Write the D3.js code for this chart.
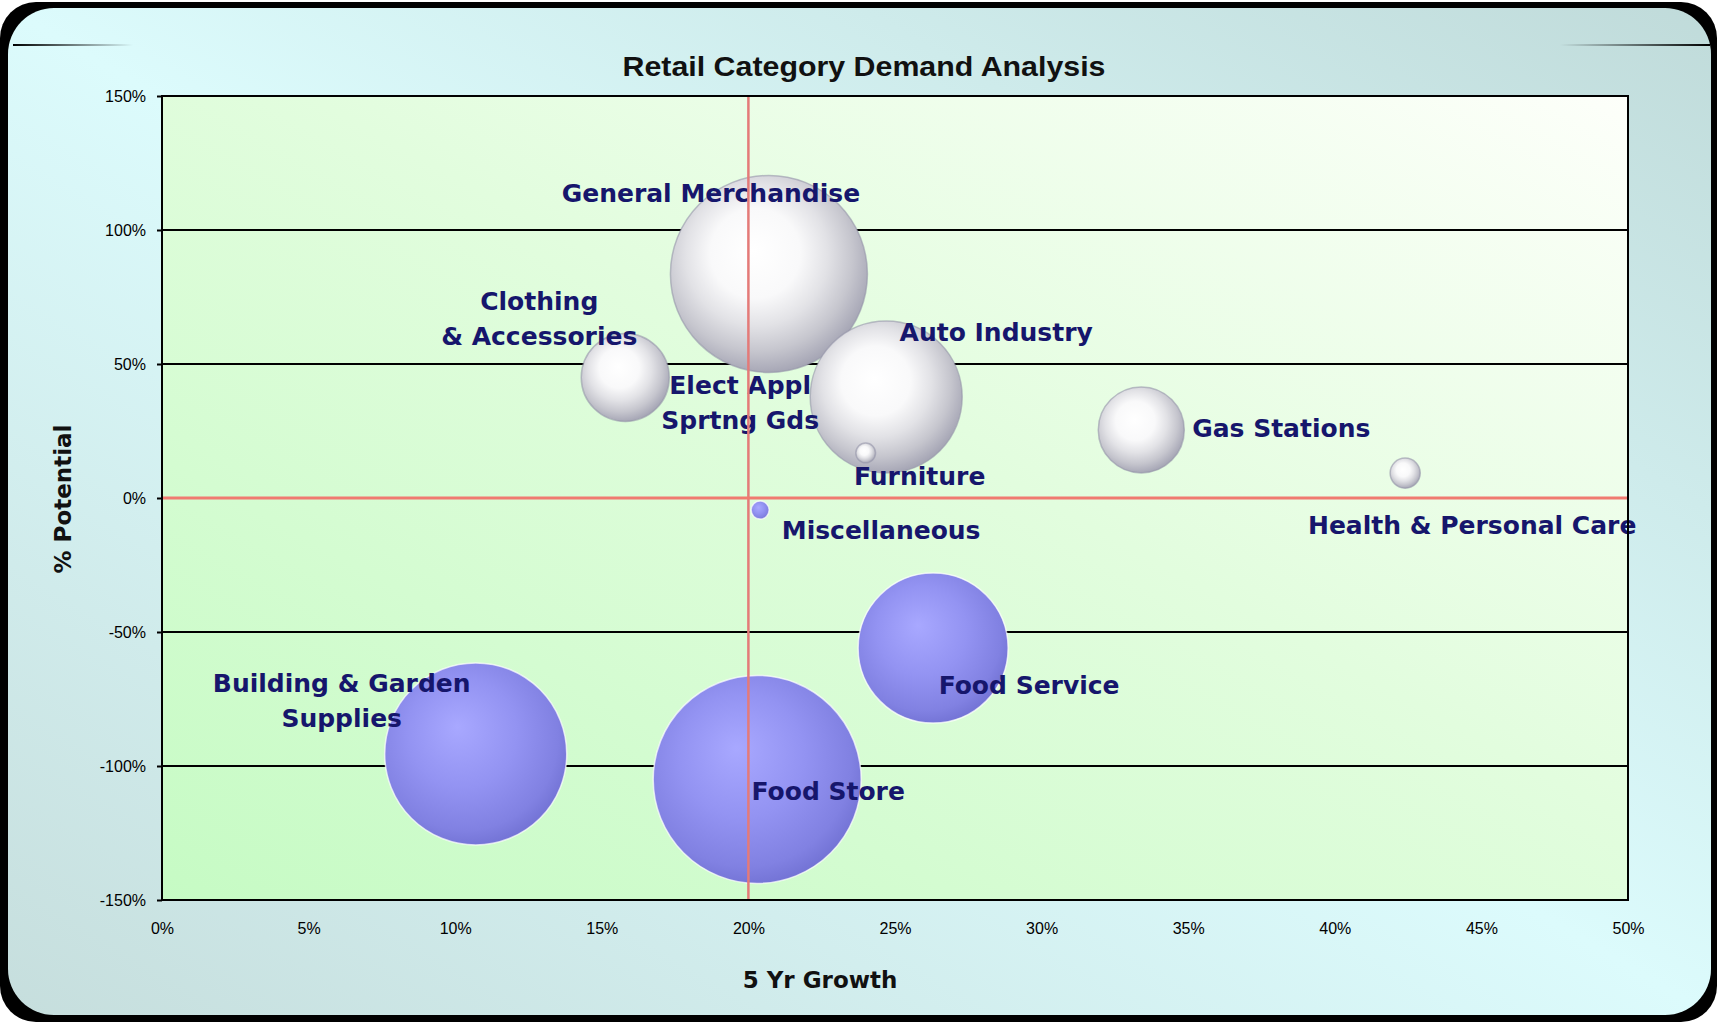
<!DOCTYPE html>
<html>
<head>
<meta charset="utf-8">
<script src="https://cdn.jsdelivr.net/npm/d3@7"></script>
<style>
	body { margin: 0; background: #fff; }
	svg { display: block; }
	.tick text { font-family: "Liberation Sans", Arial, sans-serif; font-size: 16px; fill: #000; }
	.bubble-label { font-family: "DejaVu Sans", sans-serif; font-weight: bold; font-size: 25px; fill: #16166c; }
	.axis-title { font-family: "DejaVu Sans", sans-serif; font-weight: bold; font-size: 23px; fill: #111; }
</style>
</head>
<body>
<div class="chart"></div>
<script>
// DATA
var categories = ["General Merchandise", "Clothing & Accessories", "Elect Appl Sprtng Gds", "Auto Industry",
	"Furniture", "Gas Stations", "Health & Personal Care", "Miscellaneous",
	"Food Service", "Building & Garden Supplies", "Food Store"];
var growth =    [0.207, 0.158, 0.203, 0.247, 0.240, 0.334, 0.424, 0.204, 0.263, 0.107, 0.203];
var potential = [0.836, 0.450, 0.350, 0.377, 0.168, 0.254, 0.093, -0.045, -0.560, -0.955, -1.050];
var demand =    [897, 179, 0, 534, 9, 171, 21, 7.5, 520, 766, 1000];

var x_ticks = [0, 0.05, 0.10, 0.15, 0.20, 0.25, 0.30, 0.35, 0.40, 0.45, 0.50];
var y_ticks = [-1.5, -1.0, -0.5, 0, 0.5, 1.0, 1.5];

// label layout (lines and offset from bubble centre, px)
var label_lines = [["General Merchandise"], ["Clothing", "& Accessories"], ["Elect Appl", "Sprtng Gds"], ["Auto Industry"],
	["Furniture"], ["Gas Stations"], ["Health & Personal Care"], ["Miscellaneous"],
	["Food Service"], ["Building & Garden", "Supplies"], ["Food Store"]];
var label_dx = [-58, -86, -17, 110, 54, 140, 67, 121, 96, -134, 71];
var label_dy = [-72, -67, -10, -56, 32, 7, 61, 29, 46, -62, 21];

var data = categories.map(function(c, i){
	return {name: c, growth: growth[i], potential: potential[i], size: demand[i],
		lines: label_lines[i], dx: label_dx[i], dy: label_dy[i]};
});

// SETUP
var W = 1720, H = 1023;
var margin = {left: 162, right: 92, top: 96, bottom: 123};
var width = W - margin.left - margin.right;
var height = H - margin.top - margin.bottom;

var root = d3.select(".chart").append("svg")
	.attr("width", W)
	.attr("height", H);

var defs = root.append("defs");

var frameGrad = defs.append("linearGradient").attr("id", "frame-grad")
	.attr("x1", 0).attr("y1", 1).attr("x2", 1).attr("y2", 0);
frameGrad.append("stop").attr("offset", "0%").attr("stop-color", "#c6dedd");
frameGrad.append("stop").attr("offset", "50%").attr("stop-color", "#dcfbfc");
frameGrad.append("stop").attr("offset", "100%").attr("stop-color", "#c0dbda");

var plotGrad = defs.append("linearGradient").attr("id", "plot-grad")
	.attr("x1", 0).attr("y1", 1).attr("x2", 1).attr("y2", 0);
plotGrad.append("stop").attr("offset", "0%").attr("stop-color", "#c6fbc4");
plotGrad.append("stop").attr("offset", "55%").attr("stop-color", "#e2fdde");
plotGrad.append("stop").attr("offset", "100%").attr("stop-color", "#fdfffa");

var whiteBall = defs.append("radialGradient").attr("id", "ball-white")
	.attr("cx", "45%").attr("cy", "42%").attr("r", "60%").attr("fx", "42%").attr("fy", "38%");
whiteBall.append("stop").attr("offset", "0%").attr("stop-color", "#ffffff");
whiteBall.append("stop").attr("offset", "38%").attr("stop-color", "#f9f9fa");
whiteBall.append("stop").attr("offset", "60%").attr("stop-color", "#e2e2e6");
whiteBall.append("stop").attr("offset", "80%").attr("stop-color", "#c6c6ce");
whiteBall.append("stop").attr("offset", "100%").attr("stop-color", "#a2a2b2");

var blueBall = defs.append("radialGradient").attr("id", "ball-blue")
	.attr("cx", "45%").attr("cy", "42%").attr("r", "60%").attr("fx", "40%").attr("fy", "35%");
blueBall.append("stop").attr("offset", "0%").attr("stop-color", "#a8a8ff");
blueBall.append("stop").attr("offset", "50%").attr("stop-color", "#9393f2");
blueBall.append("stop").attr("offset", "85%").attr("stop-color", "#8181e2");
blueBall.append("stop").attr("offset", "100%").attr("stop-color", "#7272d4");

var fadeR = defs.append("linearGradient").attr("id", "fade-r");
fadeR.append("stop").attr("offset", "0%").attr("stop-color", "#000").attr("stop-opacity", 1);
fadeR.append("stop").attr("offset", "100%").attr("stop-color", "#000").attr("stop-opacity", 0);
var fadeL = defs.append("linearGradient").attr("id", "fade-l");
fadeL.append("stop").attr("offset", "0%").attr("stop-color", "#000").attr("stop-opacity", 0);
fadeL.append("stop").attr("offset", "100%").attr("stop-color", "#000").attr("stop-opacity", 1);

// frame
root.append("rect").attr("x", 0).attr("y", 2).attr("width", W - 3).attr("height", H - 3)
	.attr("rx", 36).style("fill", "#000");
root.append("rect").attr("x", 8).attr("y", 8).attr("width", W - 17).attr("height", H - 16)
	.attr("rx", 46).style("fill", "url(#frame-grad)");
root.append("rect").attr("x", 13).attr("y", 44).attr("width", 120).attr("height", 2).style("fill", "url(#fade-r)");
root.append("rect").attr("x", 1560).attr("y", 44).attr("width", 150).attr("height", 2).style("fill", "url(#fade-l)");

var svg = root.append("g")
	.attr("transform", "translate(" + margin.left + ", " + margin.top + ")");

// scales
var x = d3.scaleLinear().domain([0, 0.5]).range([0, width]);
var y = d3.scaleLinear().domain([-1.5, 1.5]).range([height, 0]);
var r = d3.scaleSqrt().domain([0, 1000]).range([0, 104]);

var pct = function(d){ return Math.round(d * 100) + "%"; };

svg.append("rect")
	.attr("width", width)
	.attr("height", height)
	.style("fill", "url(#plot-grad)");

// gridlines
svg.selectAll(".grid")
	.data(y_ticks.filter(function(d){ return d > -1.5 && d < 1.5; }))
	.enter().append("line")
		.attr("class", "grid")
		.attr("x1", 0)
		.attr("x2", width)
		.attr("y1", function(d){ return y(d); })
		.attr("y2", function(d){ return y(d); })
		.style("stroke", "#000")
		.style("stroke-width", 2);

// axes
var yAxis = svg.append("g")
	.call(d3.axisLeft(y).tickValues(y_ticks).tickSize(5).tickPadding(11).tickFormat(pct));
yAxis.select(".domain").remove();
yAxis.selectAll(".tick line").style("stroke", "#000").style("stroke-width", 2);

var xAxis = svg.append("g")
	.attr("transform", "translate(0, " + height + ")")
	.call(d3.axisBottom(x).tickValues(x_ticks).tickSize(0).tickPadding(23).tickFormat(pct));
xAxis.select(".domain").remove();

// bubbles, largest first
var sorted = data.slice().sort(function(a, b){ return b.size - a.size; });

svg.selectAll(".bubble")
	.data(sorted)
	.enter().append("circle")
		.attr("class", "bubble")
		.attr("cx", function(d){ return x(d.growth); })
		.attr("cy", function(d){ return y(d.potential); })
		.attr("r", function(d){ return r(d.size); })
		.style("fill", function(d){ return d.potential < 0 ? "url(#ball-blue)" : "url(#ball-white)"; })
		.style("stroke", function(d){ return d.potential < 0 ? "rgba(255,255,255,0.7)" : "rgba(150,150,170,0.6)"; })
		.style("stroke-width", 1.5);

// labels
var labels = svg.selectAll(".bubble-label")
	.data(data)
	.enter().append("text")
		.attr("class", "bubble-label")
		.attr("text-anchor", "middle")
		.attr("x", function(d){ return x(d.growth) + d.dx; })
		.attr("y", function(d){ return y(d.potential) + d.dy; });

labels.selectAll("tspan")
	.data(function(d){ return d.lines.map(function(l){ return {txt: l, x: x(d.growth) + d.dx}; }); })
	.enter().append("tspan")
		.attr("x", function(d){ return d.x; })
		.attr("dy", function(d, i){ return i == 0 ? 0 : 35; })
		.text(function(d){ return d.txt; });

// reference lines at 20% growth and 0% potential
svg.append("line")
	.attr("x1", x(0.2)).attr("x2", x(0.2))
	.attr("y1", 0).attr("y2", height)
	.style("stroke", "#e47a78")
	.style("stroke-width", 2.5);

svg.append("line")
	.attr("x1", 0).attr("x2", width)
	.attr("y1", y(0)).attr("y2", y(0))
	.style("stroke", "#f07a70")
	.style("stroke-width", 3);

// plot border
svg.append("rect")
	.attr("width", width)
	.attr("height", height)
	.style("fill", "none")
	.style("stroke", "#000")
	.style("stroke-width", 2);

// titles
root.append("text")
	.attr("x", 864)
	.attr("y", 76)
	.attr("text-anchor", "middle")
	.attr("textLength", 483)
	.attr("lengthAdjust", "spacingAndGlyphs")
	.style("font-family", "'Liberation Sans', Arial, sans-serif")
	.style("font-weight", "bold")
	.style("font-size", "28px")
	.style("fill", "#111")
	.text("Retail Category Demand Analysis");

root.append("text")
	.attr("class", "axis-title")
	.attr("text-anchor", "middle")
	.attr("x", 820)
	.attr("y", 988)
	.text("5 Yr Growth");

root.append("text")
	.attr("class", "axis-title")
	.attr("text-anchor", "middle")
	.attr("transform", "translate(71, 499) rotate(-90)")
	.text("% Potential");
</script>
</body>
</html>
